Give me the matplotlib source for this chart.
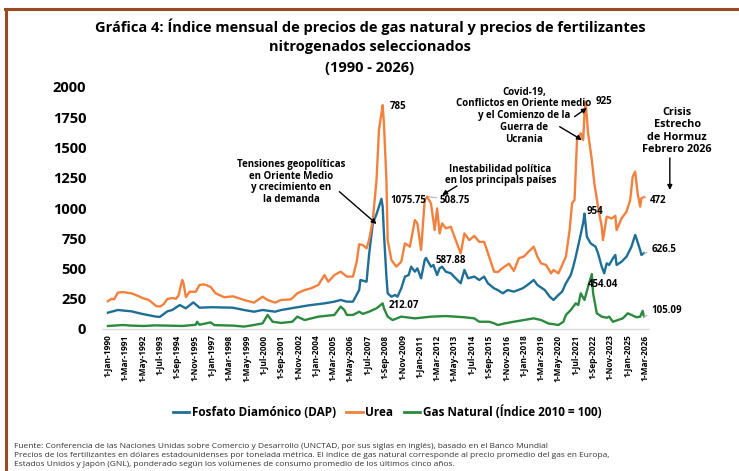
import matplotlib
matplotlib.use("Agg")
import matplotlib.pyplot as plt
import matplotlib.dates as mdates
from matplotlib.lines import Line2D
import pandas as pd

plt.rcParams['font.family'] = ['Open Sans', 'DejaVu Sans']

# ---- data (monthly readings, USD/t for fertilizers, index 2010=100 for gas) ----
urea_dates = ["1990-01", "1990-04", "1990-06", "1990-09", "1991-01", "1991-08", "1992-01", "1992-05",
              "1992-10", "1993-04", "1993-07", "1993-10", "1994-01", "1994-05", "1994-08", "1994-10",
              "1995-01", "1995-02", "1995-04", "1995-07", "1995-12", "1996-03", "1996-07", "1996-12",
              "1997-04", "1997-11", "1998-06", "1998-07", "1999-03", "1999-11", "2000-06", "2000-10",
              "2001-04", "2001-09", "2002-05", "2002-10", "2003-04", "2003-09", "2004-03", "2004-08",
              "2004-11", "2005-04", "2005-09", "2006-02", "2006-07", "2006-10", "2006-12", "2007-03",
              "2007-06", "2007-08", "2007-11", "2008-02", "2008-04", "2008-06", "2008-07", "2008-08",
              "2008-10", "2008-11", "2009-02", "2009-06", "2009-10", "2010-01", "2010-05", "2010-09",
              "2010-11", "2011-02", "2011-05", "2011-07", "2011-10", "2012-01", "2012-03", "2012-05",
              "2012-07", "2012-10", "2013-02", "2013-06", "2013-10", "2014-01", "2014-05", "2014-09",
              "2015-01", "2015-05", "2015-09", "2016-01", "2016-04", "2016-08", "2017-01", "2017-05",
              "2017-09", "2018-01", "2018-05", "2018-09", "2018-12", "2019-03", "2019-07", "2019-11",
              "2020-01", "2020-05", "2020-08", "2020-11", "2021-02", "2021-04", "2021-06", "2021-08",
              "2021-11", "2022-01", "2022-02", "2022-03", "2022-05", "2022-08", "2022-10", "2023-01",
              "2023-04", "2023-05", "2023-08", "2023-12", "2024-03", "2024-04", "2024-08", "2024-12",
              "2025-03", "2025-05", "2025-07", "2025-09", "2025-11", "2025-12", "2026-02"]
urea_values = [230, 250, 245, 300, 305, 295, 275, 256,
               240, 190, 185, 205, 248, 256, 250, 275,
               405, 380, 264, 308, 308, 364, 369, 347,
               295, 262, 270, 267, 240, 218, 267, 240,
               218, 240, 245, 295, 322, 336, 364, 446,
               391, 446, 474, 433, 433, 556, 700, 694,
               667, 735, 900, 1231, 1645, 1783, 1850, 1700,
               1231, 735, 570, 515, 556, 708, 680, 900,
               873, 653, 1066, 1093, 1039, 818, 997, 790,
               873, 832, 845, 735, 625, 790, 735, 770,
               720, 720, 598, 474, 470, 505, 540, 480,
               585, 598, 640, 680, 598, 543, 529, 460,
               488, 460, 529, 598, 818, 1039, 1066, 1562,
               1617, 1562, 1783, 1879, 1617, 1397, 1204, 1011,
               845, 735, 928, 914, 935, 818, 914, 970,
               1066, 1259, 1300, 1121, 1011, 1080, 1090]

dap_dates = ["1990-01", "1990-09", "1991-08", "1992-05", "1993-04", "1993-07", "1994-01", "1994-05",
             "1994-11", "1995-04", "1995-10", "1996-03", "1997-01", "1998-06", "1999-03", "1999-11",
             "2000-06", "2001-04", "2001-09", "2002-05", "2003-04", "2003-09", "2004-08", "2005-04",
             "2005-09", "2006-02", "2006-07", "2006-12", "2007-01", "2007-06", "2007-08", "2007-11",
             "2008-02", "2008-04", "2008-06", "2008-07", "2008-08", "2008-10", "2008-11", "2009-02",
             "2009-05", "2009-07", "2009-10", "2010-01", "2010-04", "2010-06", "2010-09", "2010-11",
             "2011-02", "2011-05", "2011-06", "2011-10", "2011-12", "2012-03", "2012-05", "2012-07",
             "2012-10", "2013-02", "2013-06", "2013-10", "2014-01", "2014-04", "2014-09", "2015-01",
             "2015-05", "2015-08", "2016-01", "2016-04", "2016-08", "2016-12", "2017-05", "2017-12",
             "2018-04", "2018-09", "2018-12", "2019-06", "2019-10", "2020-01", "2020-05", "2020-08",
             "2020-11", "2021-03", "2021-05", "2021-07", "2021-10", "2022-01", "2022-02", "2022-04",
             "2022-07", "2022-11", "2023-01", "2023-04", "2023-06", "2023-08", "2023-10", "2024-01",
             "2024-03", "2024-04", "2024-08", "2024-12", "2025-04", "2025-07", "2025-08", "2025-11",
             "2025-12", "2026-02"]
dap_values = [135, 157, 146, 124, 102, 100, 146, 157,
              198, 171, 220, 176, 180, 176, 157, 143,
              157, 143, 157, 171, 190, 198, 212, 226,
              240, 226, 226, 322, 405, 391, 612, 873,
              950, 1011, 1075.75, 1011, 790, 433, 295, 267,
              281, 267, 336, 433, 446, 515, 474, 501,
              419, 570, 587.88, 515, 529, 446, 501, 515,
              474, 460, 419, 378, 488, 419, 433, 405,
              433, 378, 336, 322, 295, 322, 309, 336,
              364, 405, 364, 322, 267, 240, 281, 309,
              378, 446, 515, 598, 735, 880, 954, 763,
              708, 680, 625, 515, 460, 543, 529, 584,
              612, 529, 556, 598, 680, 777, 749, 653,
              612, 626.5]

gas_dates = ["1990-01", "1990-06", "1991-01", "1991-08", "1992-06", "1993-03", "1994-01", "1995-01",
             "1995-12", "1996-01", "1996-03", "1996-12", "1997-03", "1998-06", "1999-03", "1999-11",
             "2000-06", "2000-10", "2001-02", "2001-09", "2002-06", "2002-10", "2003-04", "2004-03",
             "2005-04", "2005-09", "2005-12", "2006-02", "2006-07", "2006-12", "2007-03", "2007-08",
             "2008-02", "2008-07", "2008-08", "2008-11", "2009-03", "2009-10", "2010-09", "2011-10",
             "2012-10", "2014-01", "2014-09", "2015-01", "2015-09", "2016-01", "2016-04", "2016-10",
             "2017-05", "2018-09", "2019-03", "2019-09", "2020-01", "2020-05", "2020-09", "2020-11",
             "2021-03", "2021-07", "2021-09", "2021-11", "2022-02", "2022-05", "2022-08", "2022-09",
             "2022-12", "2023-04", "2023-08", "2023-10", "2024-01", "2024-05", "2024-09", "2025-01",
             "2025-04", "2025-08", "2025-11", "2026-01", "2026-02"]
gas_values = [25, 28, 33, 28, 25, 30, 28, 25,
              35, 60, 35, 55, 32, 28, 20, 33,
              47, 116, 60, 50, 60, 102, 74, 102,
              116, 185, 157, 116, 116, 143, 125, 143,
              171, 212.07, 171, 102, 74, 102, 88, 102,
              107, 97, 88, 60, 60, 47, 33, 47,
              60, 88, 74, 45, 40, 33, 60, 116,
              157, 212, 198, 295, 240, 350, 454.04, 295,
              130, 102, 93, 102, 60, 74, 88, 130,
              116, 97, 102, 150, 105.09]

series_names = ["Fosfato Diamónico (DAP)", "Urea", "Gas Natural (Índice 2010 = 100)"]
yticks = [0, 250, 500, 750, 1000, 1250, 1500, 1750, 2000]
tick_dates = pd.date_range("1990-01-01", "2026-03-01", freq="14MS")
tick_labels = [f"{d.day}-{d.strftime('%b')}-{d.year}" for d in tick_dates]

C_DAP = "#1f6e96"
C_UREA = "#f2813d"
C_GAS = "#2b8a3e"
BROWN = "#9a4a22"
LEADER = "#b5b5b5"

W, H = 739, 471
fig = plt.figure(figsize=(W / 100, H / 100), dpi=100)
fig.patch.set_facecolor("white")


def fx(px):
    return px / W


def fy(py):
    return 1 - py / H


# card border (top and left edges)
fig.add_artist(Line2D([fx(5), fx(739)], [fy(9), fy(9)], color=BROWN, lw=2.2))
fig.add_artist(Line2D([fx(6), fx(6)], [fy(9), fy(471)], color=BROWN, lw=2.2))

ax = fig.add_axes([fx(103), fy(329), fx(648) - fx(103), fy(87) - fy(329)])

dt = lambda s: pd.to_datetime(s)
ax.plot(dt(dap_dates), dap_values, color=C_DAP, lw=1.7, label=series_names[0], solid_joinstyle="round")
ax.plot(dt(urea_dates), urea_values, color=C_UREA, lw=1.7, label=series_names[1], solid_joinstyle="round")
ax.plot(dt(gas_dates), gas_values, color=C_GAS, lw=1.7, label=series_names[2], solid_joinstyle="round")

x0 = mdates.date2num(pd.Timestamp("1990-01-01")) - 4 * 30.44
x1 = mdates.date2num(pd.Timestamp("2026-03-01")) + 2.4 * 30.44
ax.set_xlim(x0, x1)
ax.set_ylim(0, 2000)

ax.set_yticks(yticks)
ax.set_yticklabels([str(v) for v in yticks], fontsize=10.5, fontweight="bold")
ax.set_xticks(tick_dates)
ax.set_xticklabels(tick_labels, rotation=90, fontsize=6.0, fontweight="bold")
ax.tick_params(axis="y", length=0, pad=12)
ax.tick_params(axis="x", length=0, pad=4)
for s in ["top", "right", "left"]:
    ax.spines[s].set_visible(False)
ax.spines["bottom"].set_color("#d9d9d9")
ax.spines["bottom"].set_linewidth(1.0)

# title
title_lines = ["Gráfica 4: Índice mensual de precios de gas natural y precios de fertilizantes",
               "nitrogenados seleccionados", "(1990 - 2026)"]
for py, line in zip([27, 47, 68], title_lines):
    fig.text(fx(370), fy(py), line, ha="center", va="center", fontsize=10.5, fontweight="bold")


def d(s):
    return mdates.date2num(pd.Timestamp(s))


ann = dict(fontsize=7.0, fontweight="bold", va="center")

# value labels
ax.text(d("2009-01-01"), 1837, "785", ha="left", **ann)
ax.text(d("2009-01-01"), 1066, "1075.75", ha="left", **ann)
ax.annotate("508.75", xy=(d("2011-08-01"), 1093), xytext=(d("2012-05-01"), 1066),
            ha="left", arrowprops=dict(arrowstyle="-", color=LEADER, lw=0.8,
                                       shrinkA=0, shrinkB=0), **ann)
ax.text(d("2012-02-01"), 570, "587.88", ha="left", **ann)
ax.text(d("2008-12-01"), 193, "212.07", ha="left", **ann)
ax.text(d("2022-11-01"), 1880, "925", ha="left", **ann)
ax.text(d("2022-04-01"), 975, "954", ha="left", **ann)
ax.text(d("2022-05-01"), 364, "454.04", ha="left", **ann)
ax.annotate("472", xy=(d("2026-02-01"), 1090), xytext=(d("2026-07-01"), 1060),
            ha="left", annotation_clip=False,
            arrowprops=dict(arrowstyle="-", color=LEADER, lw=0.8, shrinkA=1, shrinkB=0), **ann)
ax.annotate("626.5", xy=(d("2026-02-01"), 626.5), xytext=(d("2026-08-01"), 653),
            ha="left", annotation_clip=False,
            arrowprops=dict(arrowstyle="-", color=LEADER, lw=0.8, shrinkA=1, shrinkB=0), **ann)
ax.annotate("105.09", xy=(d("2026-02-01"), 105.09), xytext=(d("2026-08-01"), 157),
            ha="left", annotation_clip=False,
            arrowprops=dict(arrowstyle="-", color=LEADER, lw=0.8, shrinkA=1, shrinkB=0), **ann)

# event notes
note = dict(fontsize=7.0, fontweight="bold", ha="center", va="center", linespacing=1.1)
ax.text(d("2002-05-01"), 1215, "Tensiones geopolíticas\nen Oriente Medio\ny crecimiento en\nla demanda", **note)
ax.text(d("2016-06-01"), 1273, "Inestabilidad política\nen los principals países", **note)
ax.text(d("2018-01-01"), 1763, "Covid-19,\nConflictos en Oriente medio\ny el Comienzo de la\nGuerra de\nUcrania", **note)
ax.text(d("2028-05-01"), 1636, "Crisis\nEstrecho\nde Hormuz\nFebrero 2026", fontsize=7.8, fontweight="bold",
        ha="center", va="center", linespacing=1.2, clip_on=False)

arrow = dict(arrowstyle="-|>", color="black", lw=1.0, mutation_scale=7, shrinkA=0, shrinkB=0)
ax.annotate("", xy=(d("2008-02-01"), 868), xytext=(d("2005-08-01"), 1135), arrowprops=arrow)
ax.annotate("", xy=(d("2012-07-01"), 1107), xytext=(d("2013-07-01"), 1182), arrowprops=arrow)
ax.annotate("", xy=(d("2022-04-01"), 1826), xytext=(d("2021-06-01"), 1755), arrowprops=arrow)
ax.annotate("", xy=(d("2021-12-01"), 1562), xytext=(d("2020-06-01"), 1672), arrowprops=arrow)
ax.annotate("", xy=(d("2027-11-01"), 1149), xytext=(d("2027-11-01"), 1413), arrowprops=arrow,
            annotation_clip=False)

# legend
handles = [Line2D([], [], color=c, lw=2) for c in (C_DAP, C_UREA, C_GAS)]
leg = fig.legend(handles, series_names, loc="center", bbox_to_anchor=(fx(387), fy(412)), ncol=3,
                 frameon=False, handlelength=1.4, handletextpad=0.2, columnspacing=0.9,
                 prop={"weight": "bold", "size": 8.5})

# notes under the chart
foot = ["Fuente: Conferencia de las Naciones Unidas sobre Comercio y Desarrollo (UNCTAD, por sus siglas en inglés), basado en el Banco Mundial",
        "Precios de los fertilizantes en dólares estadounidenses por tonelada métrica. El índice de gas natural corresponde al precio promedio del gas en Europa,",
        "Estados Unidos y Japón (GNL), ponderado según los volúmenes de consumo promedio de los últimos cinco años."]
for py, line in zip([446, 455.5, 464.5], foot):
    fig.text(fx(14), fy(py), line, ha="left", va="center", fontsize=6.0, color="#333333")

fig.savefig("out.png", dpi=100)
